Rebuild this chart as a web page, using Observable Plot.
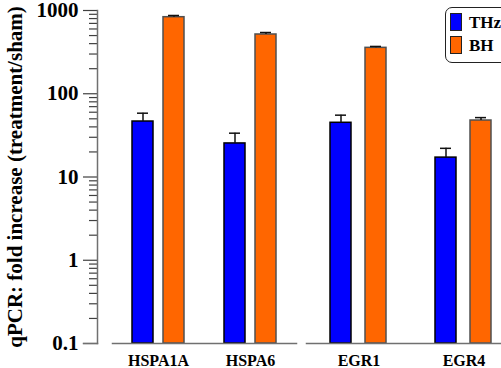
<!DOCTYPE html>
<html>
<head>
<meta charset="utf-8">
<script src="https://cdn.jsdelivr.net/npm/d3@7"></script>
<script src="https://cdn.jsdelivr.net/npm/@observablehq/plot@0.6"></script>
<style>
  html, body { margin: 0; padding: 0; background: #fff; }
  body { position: relative; width: 501px; height: 368px; overflow: hidden;
         font-family: "Liberation Serif", "Times New Roman", serif; font-weight: bold; }
  .panel { position: absolute; top: 0; height: 368px; }
  .panel svg { max-width: none !important; overflow: visible; }
  .legend { position: absolute; left: 445px; top: 7px; width: 90px; height: 56px;
            border: 1px solid #222; border-radius: 7px; box-sizing: border-box; background: #fff; }
  .row { position: absolute; left: 4px; display: flex; align-items: center; font-size: 17px; line-height: 17px; }
  .sw { width: 10px; height: 16px; border: 1px solid #222; margin-right: 7px; }
</style>
</head>
<body>
<div id="left" class="panel" style="left:97px; width:209px"></div>
<div id="right" class="panel" style="left:306px; width:250px"></div>
<div id="axis" class="panel" style="left:0; width:98px"></div>
<div class="legend" id="legend"></div>
<script>
// Genes, grouped into the two panels
const genes = ["HSPA1A", "HSPA6", "EGR1", "EGR4"];
const leftGenes = ["HSPA1A", "HSPA6"];
const rightGenes = ["EGR1", "EGR4"];
const series = ["THz", "BH"];

// Fold increase (treatment/sham) and standard error
const thzValues = [46.4, 25.3, 44.8, 17.1];
const thzErrors = [12, 8.3, 10.5, 5];
const bhValues = [831, 515, 356, 47.7];
const bhErrors = [40, 29, 14, 4];

const yDomain = [0.1, 1000];
const yMajor = [0.1, 1, 10, 100, 1000];
const yMinor = d3.range(-1, 3).flatMap(e => d3.range(2, 10).map(m => m * 10 ** e));
const yLabel = "qPCR: fold increase (treatment/sham)";

const colors = {THz: "#0000ff", BH: "#ff6600"};
const outline = {THz: "#000000", BH: "#505050"};
const axisGrey = "#707070";
const tickGrey = "#404040";
const font = "'Liberation Serif', 'Times New Roman', serif";

const rows = genes.flatMap((g, i) => [
  {gene: g, series: "THz", value: thzValues[i], err: thzErrors[i]},
  {gene: g, series: "BH", value: bhValues[i], err: bhErrors[i]}
]);

const frameBox = {height: 368, marginTop: 10, marginBottom: 25};

// Value axis: a narrow strip (tick length units) with long ticks at decades, short ones between
function valueAxis() {
  const tickLength = 14, minorLength = 8;
  return Plot.plot({
    ...frameBox, width: 98, marginLeft: 83, marginRight: 1,
    style: {fontFamily: font, background: "transparent", overflow: "visible"},
    x: {domain: [0, tickLength], axis: null},
    y: {type: "log", domain: yDomain, axis: null},
    marks: [
      Plot.ruleY(yMinor, {y: Number, x1: () => tickLength - minorLength, x2: () => tickLength,
        stroke: tickGrey, strokeWidth: 1.2, strokeOpacity: 1}),
      Plot.ruleY(yMajor, {y: Number, x1: () => 0, x2: () => tickLength,
        stroke: tickGrey, strokeWidth: 1.2, strokeOpacity: 1}),
      Plot.frame({anchor: "right", stroke: axisGrey, strokeWidth: 1.5}),
      Plot.frame({anchor: "bottom", stroke: axisGrey, strokeWidth: 1.5}),
      Plot.axisY(yMajor, {anchor: "left", tickSize: 0, tickPadding: 5, tickFormat: d => `${d}`,
        fill: "#000", fontSize: 21, fontWeight: "bold",
        label: yLabel, labelAnchor: "center", labelArrow: "none", labelOffset: 76})
    ]
  });
}

// One panel of grouped bars with upward error bars
function barPanel({domain, width, marginRight, fxPadOuter, fxAlign, xPad}) {
  const data = rows.filter(d => domain.includes(d.gene));
  return Plot.plot({
    ...frameBox, width, marginLeft: 0, marginRight,
    style: {fontFamily: font, background: "transparent", overflow: "visible"},
    y: {type: "log", domain: yDomain, axis: null},
    fx: {domain, paddingInner: 0, paddingOuter: fxPadOuter, align: fxAlign, label: null},
    x: {domain: series, axis: null, ...xPad},
    marks: [
      Plot.barY(data, {
        fx: "gene", x: "series", y1: () => yDomain[0], y2: "value",
        fill: d => colors[d.series], stroke: d => outline[d.series], strokeWidth: 1.5
      }),
      Plot.ruleX(data, {fx: "gene", x: "series", y1: "value", y2: d => d.value + d.err,
        stroke: "#111", strokeWidth: 1.5}),
      Plot.tickY(data, {fx: "gene", x: "series", y: d => d.value + d.err,
        stroke: "#111", strokeWidth: 1.5, insetLeft: 5, insetRight: 5}),
      Plot.frame({anchor: "bottom", facet: "super", stroke: axisGrey, strokeWidth: 1.5}),
      Plot.axisFx({anchor: "bottom", tickSize: 0, tickPadding: 11, fontSize: 16,
        fontWeight: "bold", label: null})
    ]
  });
}

document.getElementById("axis").append(valueAxis());
document.getElementById("left").append(barPanel({
  domain: leftGenes, width: 209, marginRight: 10, fxPadOuter: 0.0815, fxAlign: 0.967,
  xPad: {paddingInner: 0.3226, paddingOuter: 0.645, align: 0.5}
}));
document.getElementById("right").append(barPanel({
  domain: rightGenes, width: 250, marginRight: 40, fxPadOuter: 0, fxAlign: 0,
  xPad: {paddingInner: 0.388, paddingOuter: 0.687, align: 0.5}
}));

// Series key
const legend = document.getElementById("legend");
series.forEach((s, i) => {
  const row = document.createElement("div");
  row.className = "row";
  row.style.top = (5 + i * 23) + "px";
  const sw = document.createElement("div");
  sw.className = "sw";
  sw.style.background = colors[s];
  const label = document.createElement("span");
  label.textContent = s;
  row.append(sw, label);
  legend.append(row);
});
</script>
</body>
</html>
